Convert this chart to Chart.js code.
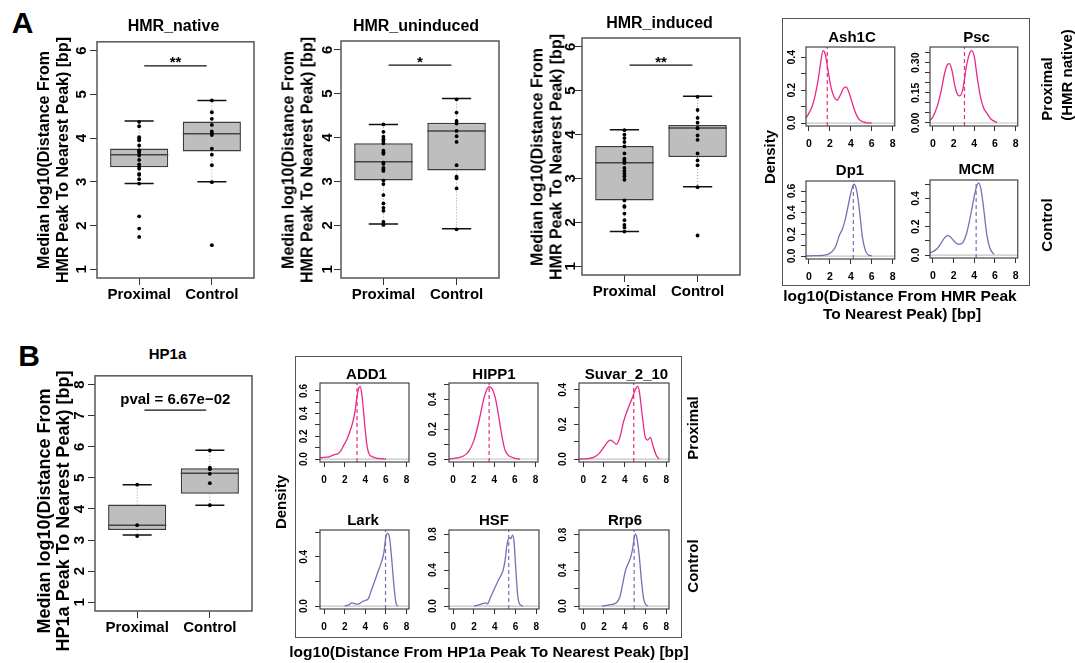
<!DOCTYPE html>
<html>
<head>
<meta charset="utf-8">
<script src="https://cdn.jsdelivr.net/npm/chart.js@4.4.1/dist/chart.umd.min.js"></script>
<style>
  html, body { margin: 0; padding: 0; background: #fff; }
  #fig { position: relative; width: 1075px; height: 663px; overflow: hidden;
         font-family: "Liberation Sans", Arial, sans-serif; font-weight: bold; color: #000; }
  #fig canvas { position: absolute; }
  .t { position: absolute; white-space: nowrap; line-height: 1; transform: translate(-50%, -50%); }
  .v { position: absolute; white-space: nowrap; text-align: center; transform: translate(-50%, -50%) rotate(-90deg); }
  .frame { position: absolute; border: 1.5px solid #555; box-sizing: border-box; }
</style>
</head>
<body>
<div id="fig"></div>
<script>
// ---------------- data ----------------
const GROUPS = ['Proximal', 'Control'];
const BOX_TICKS_A = [1, 2, 3, 4, 5, 6];
const BOX_TICKS_B = [1, 2, 3, 4, 5, 6, 7, 8];

// box statistics: [lower whisker, Q1, median, Q3, upper whisker]
const nativeProxStats = [2.96, 3.33, 3.62, 3.76, 4.39];
const nativeCtrlStats = [3.00, 3.69, 4.10, 4.38, 4.86];
const nativeProxPts = [4.37, 4.27, 4.02, 3.98, 3.95, 3.83, 3.72, 3.69, 3.66, 3.60, 3.50, 3.40, 3.35, 3.30, 3.18, 3.16, 3.06, 2.96, 2.21, 1.93, 1.74];
const nativeCtrlPts = [4.86, 4.59, 4.44, 4.30, 4.15, 4.10, 4.07, 3.76, 3.62, 3.38, 2.99, 1.55];

const uninducedProxStats = [2.03, 3.02, 3.45, 3.87, 4.30];
const uninducedCtrlStats = [1.92, 3.25, 4.15, 4.34, 4.89];
const uninducedProxPts = [4.30, 4.13, 4.02, 3.96, 3.92, 3.87, 3.70, 3.66, 3.63, 3.43, 3.40, 3.31, 3.28, 3.24, 3.02, 2.94, 2.69, 2.50, 2.40, 2.33, 2.08, 2.03, 2.01];
const uninducedCtrlPts = [4.87, 4.57, 4.38, 4.32, 4.15, 4.03, 3.90, 3.37, 3.11, 3.07, 2.84, 1.91];

const inducedProxStats = [1.79, 2.50, 3.36, 3.74, 4.11];
const inducedCtrlStats = [2.81, 3.49, 4.15, 4.22, 4.87];
const inducedProxPts = [4.10, 4.00, 3.92, 3.83, 3.73, 3.57, 3.45, 3.42, 3.38, 3.35, 3.24, 3.17, 3.11, 3.05, 2.97, 2.50, 2.37, 2.35, 2.20, 2.05, 1.94, 1.88, 1.79];
const inducedCtrlPts = [4.86, 4.56, 4.38, 4.27, 4.15, 4.14, 3.98, 3.88, 3.57, 3.41, 3.30, 2.80, 1.70];

const hp1aProxStats = [3.16, 3.32, 3.48, 4.14, 4.78];
const hp1aCtrlStats = [4.12, 4.49, 5.15, 5.31, 5.89];
const hp1aProxPts = [4.78, 3.48, 3.13];
const hp1aCtrlPts = [5.88, 5.33, 5.28, 5.13, 4.83, 4.12];

// significance bars: [x from, x to, y] and their labels
const nativeSig = [1.07, 1.93, 5.65];
const uninducedSig = [1.07, 1.93, 5.65];
const inducedSig = [1.07, 1.93, 5.58];
const hp1aSig = [1.10, 1.95, 7.18];
const sigLabels = ['**', '*', '**', 'pval = 6.67e\u221202'];

// density curves (x = log10 distance, y = density) and medians
const ash1cX = [-0.28, 0.0, 0.3, 0.6, 0.9, 1.1, 1.35, 1.55, 1.8, 2.1, 2.4, 2.7, 3.0, 3.3, 3.55, 3.8, 4.1, 4.4, 4.7, 5.0, 5.4, 6.0];
const ash1cY = [0.03, 0.06, 0.10, 0.17, 0.27, 0.36, 0.44, 0.42, 0.33, 0.22, 0.16, 0.14, 0.17, 0.21, 0.22, 0.19, 0.13, 0.07, 0.03, 0.012, 0.003, 0];
const pscX = [-0.28, 0.0, 0.4, 0.8, 1.1, 1.4, 1.6, 1.85, 2.1, 2.4, 2.6, 2.9, 3.2, 3.5, 3.75, 4.0, 4.3, 4.6, 4.9, 5.2, 5.6, 6.2];
const pscY = [0.013, 0.03, 0.08, 0.16, 0.24, 0.29, 0.295, 0.26, 0.19, 0.14, 0.135, 0.17, 0.27, 0.34, 0.36, 0.33, 0.22, 0.13, 0.075, 0.05, 0.02, 0.002];
const dp1X = [-0.28, 0.5, 1.0, 1.5, 1.9, 2.3, 2.6, 2.9, 3.2, 3.5, 3.8, 4.1, 4.3, 4.5, 4.7, 4.9, 5.1, 5.4, 5.7, 6.0];
const dp1Y = [0.002, 0.004, 0.005, 0.008, 0.02, 0.05, 0.10, 0.19, 0.25, 0.35, 0.49, 0.62, 0.665, 0.63, 0.52, 0.36, 0.18, 0.05, 0.01, 0.002];
const mcmX = [-0.28, 0.0, 0.4, 0.8, 1.1, 1.45, 1.8, 2.1, 2.5, 2.9, 3.2, 3.5, 3.8, 4.1, 4.4, 4.6, 4.8, 5.0, 5.2, 5.5, 5.9];
const mcmY = [0.018, 0.025, 0.045, 0.085, 0.12, 0.14, 0.12, 0.095, 0.076, 0.09, 0.14, 0.23, 0.34, 0.45, 0.51, 0.48, 0.39, 0.27, 0.15, 0.05, 0.005];

const add1X = [-0.4, 0.0, 0.5, 1.0, 1.3, 1.6, 1.9, 2.2, 2.5, 2.8, 3.0, 3.2, 3.35, 3.5, 3.65, 3.8, 4.0, 4.2, 4.4, 4.7, 5.0, 5.5, 6.0];
const add1Y = [0.01, 0.015, 0.02, 0.04, 0.045, 0.07, 0.12, 0.17, 0.24, 0.33, 0.42, 0.55, 0.62, 0.64, 0.58, 0.45, 0.25, 0.10, 0.04, 0.02, 0.01, 0.003, 0];
const hipp1X = [-0.4, 0.5, 1.0, 1.5, 2.0, 2.5, 3.0, 3.3, 3.5, 3.8, 4.1, 4.4, 4.7, 5.0, 5.3, 5.6, 6.0, 6.5];
const hipp1Y = [0.0, 0.01, 0.02, 0.05, 0.12, 0.25, 0.41, 0.47, 0.485, 0.47, 0.41, 0.30, 0.17, 0.07, 0.03, 0.015, 0.005, 0.0];
const suvarX = [-0.4, 0.5, 1.0, 1.5, 2.0, 2.3, 2.6, 2.9, 3.2, 3.5, 3.9, 4.3, 4.7, 5.0, 5.2, 5.4, 5.7, 6.0, 6.2, 6.45, 6.7, 7.0, 7.3];
const suvarY = [0.0, 0.003, 0.01, 0.03, 0.07, 0.095, 0.11, 0.10, 0.085, 0.12, 0.22, 0.29, 0.35, 0.40, 0.42, 0.39, 0.24, 0.12, 0.11, 0.125, 0.08, 0.025, 0.0];
const larkX = [2.0, 2.4, 2.7, 3.0, 3.3, 3.7, 4.0, 4.3, 4.6, 4.9, 5.2, 5.5, 5.8, 6.0, 6.15, 6.35, 6.55, 6.75, 7.0, 7.2];
const larkY = [0.0, 0.01, 0.025, 0.018, 0.015, 0.035, 0.045, 0.06, 0.13, 0.20, 0.27, 0.34, 0.43, 0.56, 0.59, 0.56, 0.40, 0.20, 0.02, 0];
const hsfX = [2.0, 2.5, 2.9, 3.1, 3.3, 3.6, 4.0, 4.4, 4.8, 5.0, 5.2, 5.4, 5.55, 5.7, 5.85, 6.0, 6.2, 6.4, 6.7];
const hsfY = [0.0, 0.012, 0.03, 0.035, 0.025, 0.10, 0.20, 0.30, 0.40, 0.52, 0.70, 0.76, 0.75, 0.79, 0.72, 0.45, 0.12, 0.02, 0];
const rrp6X = [1.8, 2.2, 2.6, 3.0, 3.3, 3.55, 3.8, 4.05, 4.3, 4.55, 4.75, 4.9, 5.05, 5.2, 5.4, 5.6, 5.8, 6.0, 6.2];
const rrp6Y = [0, 0.008, 0.015, 0.025, 0.05, 0.11, 0.25, 0.39, 0.47, 0.54, 0.64, 0.76, 0.81, 0.74, 0.55, 0.29, 0.09, 0.02, 0];

const densityMedians = { Ash1C: 1.75, Psc: 3.05, Dp1: 4.24, MCM: 4.18, ADD1: 3.2, HIPP1: 3.5, Suvar_2_10: 4.86, Lark: 5.97, HSF: 5.34, Rrp6: 4.9 };

const densXTicks = [0, 2, 4, 6, 8];
const densXLabels = ['0', '2', '4', '6', '8'];

// ---------------- styles ----------------
const FONT = '"Liberation Sans", Arial, sans-serif';
const PINK = '#E7298A';
const PURPLE = '#7570B3';
const BOX_FILL = '#BEBEBE';
const BOX_HALF = 0.4, CAP_HALF = 0.2;
Chart.defaults.font.family = FONT;

const fig = document.getElementById('fig');
const mctx = document.createElement('canvas').getContext('2d');
function textWidth(s, size) { mctx.font = `bold ${size}px ${FONT}`; return mctx.measureText(s).width; }

// frame around the plotting region
const framePlugin = {
  id: 'frame',
  afterDraw(chart, args, o) {
    const a = chart.chartArea, ctx = chart.ctx;
    ctx.save();
    ctx.strokeStyle = o.color || '#555';
    ctx.lineWidth = o.width || 1.5;
    ctx.strokeRect(a.left, a.top, a.right - a.left, a.bottom - a.top);
    ctx.restore();
  }
};
// label above a significance bar, placed in data units
const sigPlugin = {
  id: 'sigLabel',
  afterDatasetsDraw(chart, args, o) {
    if (!o.text) return;
    const ctx = chart.ctx;
    ctx.save();
    ctx.font = `bold ${o.size}px ${FONT}`;
    ctx.fillStyle = '#000';
    ctx.textAlign = 'center';
    ctx.textBaseline = 'alphabetic';
    ctx.fillText(o.text, chart.scales.x.getPixelForValue(o.x), chart.scales.y.getPixelForValue(o.y) + o.dy);
    ctx.restore();
  }
};

function makeCanvas(slot, pad) {
  const c = document.createElement('canvas');
  const w = slot.W + pad.l + pad.r, h = slot.H + pad.t + pad.b;
  c.width = w; c.height = h;
  c.style.left = (slot.L - pad.l) + 'px';
  c.style.top = (slot.T - pad.t) + 'px';
  c.style.width = w + 'px'; c.style.height = h + 'px';
  fig.appendChild(c);
  return c;
}

function yAxis(min, max, ticks, labels, size, tl, dist, width) {
  const widest = Math.max(...labels.map(l => textWidth(l, size)));
  return {
    type: 'linear', min, max, bounds: 'data', offset: false,
    afterBuildTicks: s => { s.ticks = ticks.map(v => ({ value: v })); },
    afterFit: s => { s.width = width; },
    grid: { display: true, offset: false, drawOnChartArea: false, drawTicks: true, tickLength: tl, color: '#333', lineWidth: 1 },
    border: { display: false },
    ticks: { autoSkip: false, minRotation: 90, maxRotation: 90, crossAlign: 'center',
             padding: dist - tl - widest / 2, color: '#000',
             font: { family: FONT, weight: 'bold', size }, callback: (v, i) => labels[i] }
  };
}
function xAxis(min, max, ticks, labels, size, tl, dist, height) {
  return {
    type: 'linear', min, max, bounds: 'data', offset: false,
    afterBuildTicks: s => { s.ticks = ticks.map(v => ({ value: v })); },
    afterFit: s => { s.height = height; },
    grid: { display: true, offset: false, drawOnChartArea: false, drawTicks: true, tickLength: tl, color: '#333', lineWidth: 1 },
    border: { display: false },
    ticks: { autoSkip: false, maxRotation: 0, padding: dist - tl - 0.6 * size, color: '#000',
             font: { family: FONT, weight: 'bold', size }, callback: (v, i) => labels[i] }
  };
}

// ---------------- box plots ----------------
function boxChart(slot, statsP, statsC, ptsP, ptsC, sig, sigText, sigDy, yTicks, yMin, yMax, labelDist) {
  const pad = { l: 40, r: 8, t: 12, b: 32 };
  const S = [statsP, statsC];
  const boxes = S.map((s, i) => ({ x: i + 1, y: [s[1], s[3]] }));
  const whisk = [], caps = [], meds = [];
  S.forEach((s, i) => {
    const c = i + 1;
    whisk.push({ x: c, y: s[3] }, { x: c, y: s[4] }, { x: c, y: null }, { x: c, y: s[1] }, { x: c, y: s[0] }, { x: c, y: null });
    caps.push({ x: c - CAP_HALF, y: s[4] }, { x: c + CAP_HALF, y: s[4] }, { x: c, y: null },
              { x: c - CAP_HALF, y: s[0] }, { x: c + CAP_HALF, y: s[0] }, { x: c, y: null });
    meds.push({ x: c - BOX_HALF, y: s[2] }, { x: c + BOX_HALF, y: s[2] }, { x: c, y: null });
  });
  const points = ptsP.map(v => ({ x: 1, y: v })).concat(ptsC.map(v => ({ x: 2, y: v })));
  const seg = { type: 'scatter', showLine: true, pointRadius: 0, spanGaps: false };
  new Chart(makeCanvas(slot, pad), {
    type: 'scatter',
    data: { datasets: [
      { type: 'bar', data: boxes, backgroundColor: BOX_FILL, borderColor: '#3c3c3c', borderWidth: 1.5,
        borderSkipped: false, categoryPercentage: 1, barPercentage: 2 * BOX_HALF, order: 6 },
      { ...seg, data: whisk, borderColor: '#9a9a9a', borderWidth: 1, borderDash: [1, 2], order: 5 },
      { ...seg, data: caps, borderColor: '#111', borderWidth: 1.5, order: 4 },
      { ...seg, data: meds, borderColor: '#444', borderWidth: 1.5, order: 3 },
      { ...seg, data: [{ x: sig[0], y: sig[2] }, { x: sig[1], y: sig[2] }], borderColor: '#111', borderWidth: 1.2, order: 2 },
      { type: 'scatter', data: points, pointRadius: 1.9, pointBackgroundColor: '#000', pointBorderWidth: 0, order: 1 }
    ] },
    options: {
      responsive: false, animation: false, events: [],
      layout: { padding: { left: 0, top: pad.t, right: pad.r, bottom: 0 } },
      plugins: { legend: { display: false }, tooltip: { enabled: false },
                 frame: { color: '#555', width: 1.5 },
                 sigLabel: { text: sigText, x: (sig[0] + sig[1]) / 2, y: sig[2], dy: sigDy, size: 15 } },
      scales: {
        x: xAxis(0.42, 2.58, [1, 2], GROUPS, 15, 7, 16.5, pad.b),
        y: yAxis(yMin, yMax, yTicks, yTicks.map(String), 15, 7, labelDist, pad.l)
      }
    },
    plugins: [framePlugin, sigPlugin]
  });
}

// ---------------- density panels ----------------
function densityChart(slot, name, xs, ys, color, xMin, xMax, yMin, yMax, yTicks, yLabels, fontSize, labelDist) {
  const pad = { l: 30, r: 8, t: 12, b: 28 };
  const curve = xs.map((x, i) => ({ x, y: ys[i] }));
  const m = densityMedians[name];
  new Chart(makeCanvas(slot, pad), {
    type: 'scatter',
    data: { datasets: [
      { type: 'scatter', showLine: true, pointRadius: 0, data: [{ x: xMin, y: 0 }, { x: xMax, y: 0 }],
        borderColor: '#C4C4C4', borderWidth: 1.2, order: 3 },
      { type: 'scatter', showLine: true, pointRadius: 0, data: [{ x: m, y: yMin }, { x: m, y: yMax }],
        borderColor: color, borderWidth: 1.2, borderDash: [4, 3], order: 2 },
      { type: 'scatter', showLine: true, pointRadius: 0, data: curve, cubicInterpolationMode: 'monotone',
        borderColor: color, borderWidth: 1.3, order: 1 }
    ] },
    options: {
      responsive: false, animation: false, events: [],
      layout: { padding: { left: 0, top: pad.t, right: pad.r, bottom: 0 } },
      plugins: { legend: { display: false }, tooltip: { enabled: false }, frame: { color: '#444', width: 1.2 } },
      scales: {
        x: xAxis(xMin, xMax, densXTicks, densXLabels, fontSize, 5, 18.5, pad.b),
        y: yAxis(yMin, yMax, yTicks, yLabels, fontSize, 5, labelDist, pad.l)
      }
    },
    plugins: [framePlugin]
  });
}

// ---------------- layout ----------------
const LAYOUT = {
  native:    { L: 97,  T: 41,  W: 157, H: 237 },
  uninduced: { L: 341, T: 41,  W: 158, H: 237 },
  induced:   { L: 582, T: 38,  W: 158, H: 237 },
  hp1a:      { L: 95,  T: 375, W: 157, H: 236 },
  Ash1C: { L: 806, T: 47,  W: 89, H: 79 },
  Psc:   { L: 930, T: 47,  W: 88, H: 79 },
  Dp1:   { L: 806, T: 181, W: 89, H: 78 },
  MCM:   { L: 930, T: 180, W: 88, H: 78 },
  ADD1:  { L: 320, T: 383, W: 89, H: 79 },
  HIPP1: { L: 449, T: 383, W: 89, H: 79 },
  Suvar: { L: 579, T: 383, W: 90, H: 79 },
  Lark:  { L: 320, T: 530, W: 89, H: 79 },
  HSF:   { L: 449, T: 530, W: 90, H: 79 },
  Rrp6:  { L: 579, T: 530, W: 90, H: 79 }
};

boxChart(LAYOUT.native, nativeProxStats, nativeCtrlStats, nativeProxPts, nativeCtrlPts, nativeSig, sigLabels[0], 1.5, BOX_TICKS_A, 0.8, 6.2, 15);
boxChart(LAYOUT.uninduced, uninducedProxStats, uninducedCtrlStats, uninducedProxPts, uninducedCtrlPts, uninducedSig, sigLabels[1], 1.5, BOX_TICKS_A, 0.8, 6.2, 13);
boxChart(LAYOUT.induced, inducedProxStats, inducedCtrlStats, inducedProxPts, inducedCtrlPts, inducedSig, sigLabels[2], 1.5, BOX_TICKS_A, 0.8, 6.2, 11.5);
boxChart(LAYOUT.hp1a, hp1aProxStats, hp1aCtrlStats, hp1aProxPts, hp1aCtrlPts, hp1aSig, sigLabels[3], -6, BOX_TICKS_B, 0.72, 8.28, 15);

const A_X = [-0.28, 8.2], B_X = [-0.4, 8.25];
densityChart(LAYOUT.Ash1C, 'Ash1C', ash1cX, ash1cY, PINK, A_X[0], A_X[1], -0.018, 0.462, [0, 0.1, 0.2, 0.3, 0.4], ['0.0', '', '0.2', '', '0.4'], 10.5, 14);
densityChart(LAYOUT.Psc, 'Psc', pscX, pscY, PINK, A_X[0], A_X[1], -0.015, 0.378, [0, 0.05, 0.1, 0.15, 0.2, 0.25, 0.3, 0.35], ['0.00', '', '', '0.15', '', '', '0.30', ''], 10.5, 14);
densityChart(LAYOUT.Dp1, 'Dp1', dp1X, dp1Y, PURPLE, A_X[0], A_X[1], -0.027, 0.693, [0, 0.1, 0.2, 0.3, 0.4, 0.5, 0.6], ['0.0', '', '0.2', '', '0.4', '', '0.6'], 10.5, 14);
densityChart(LAYOUT.MCM, 'MCM', mcmX, mcmY, PURPLE, A_X[0], A_X[1], -0.02, 0.53, [0, 0.1, 0.2, 0.3, 0.4, 0.5], ['0.0', '', '0.2', '', '0.4', ''], 10.5, 14);

densityChart(LAYOUT.ADD1, 'ADD1', add1X, add1Y, PINK, B_X[0], B_X[1], -0.026, 0.67, [0, 0.1, 0.2, 0.3, 0.4, 0.5, 0.6], ['0.0', '', '0.2', '', '0.4', '', '0.6'], 10, 16);
densityChart(LAYOUT.HIPP1, 'HIPP1', hipp1X, hipp1Y, PINK, B_X[0], B_X[1], -0.02, 0.51, [0, 0.1, 0.2, 0.3, 0.4, 0.5], ['0.0', '', '0.2', '', '0.4', ''], 10, 16);
densityChart(LAYOUT.Suvar, 'Suvar_2_10', suvarX, suvarY, PINK, B_X[0], B_X[1], -0.017, 0.44, [0, 0.1, 0.2, 0.3, 0.4], ['0.0', '', '0.2', '', '0.4'], 10, 16);
densityChart(LAYOUT.Lark, 'Lark', larkX, larkY, PURPLE, B_X[0], B_X[1], -0.024, 0.618, [0, 0.2, 0.4, 0.6], ['0.0', '', '0.4', ''], 10, 16);
densityChart(LAYOUT.HSF, 'HSF', hsfX, hsfY, PURPLE, B_X[0], B_X[1], -0.033, 0.846, [0, 0.2, 0.4, 0.6, 0.8], ['0.0', '', '0.4', '', '0.8'], 10, 16);
densityChart(LAYOUT.Rrp6, 'Rrp6', rrp6X, rrp6Y, PURPLE, B_X[0], B_X[1], -0.033, 0.853, [0, 0.2, 0.4, 0.6, 0.8], ['0.0', '', '0.4', '', '0.8'], 10, 16);

// ---------------- text and frames ----------------
function text(str, cx, cy, size) {
  const d = document.createElement('div');
  d.className = 't'; d.textContent = str;
  d.style.left = cx + 'px'; d.style.top = cy + 'px'; d.style.fontSize = size + 'px';
  fig.appendChild(d);
}
function vtext(lines, cx, cy, size, lh) {
  const d = document.createElement('div');
  d.className = 'v';
  d.innerHTML = lines.map(s => s.replace(/&/g, '&amp;')).join('<br>');
  d.style.left = cx + 'px'; d.style.top = cy + 'px'; d.style.fontSize = size + 'px';
  d.style.lineHeight = (lh || size * 1.15) + 'px';
  fig.appendChild(d);
}
function frame(l, t, r, b) {
  const d = document.createElement('div');
  d.className = 'frame';
  d.style.left = l + 'px'; d.style.top = t + 'px';
  d.style.width = (r - l) + 'px'; d.style.height = (b - t) + 'px';
  fig.appendChild(d);
}

frame(782, 18, 1030, 286);
frame(295, 356, 682, 638);

text('A', 22.5, 22.5, 30);
text('B', 29, 356, 30);

text('HMR_native', 173.5, 25.5, 16);
text('HMR_uninduced', 416, 26, 16);
text('HMR_induced', 659.5, 22.5, 16);
text('HP1a', 167.5, 353, 15);

const yTitleA = ['Median log10(Distance From', 'HMR Peak To Nearest Peak) [bp]'];
vtext(yTitleA, 52.5, 160, 16, 18.5);
vtext(yTitleA, 297.5, 160, 16, 18.5);
vtext(yTitleA, 546.5, 157, 16, 18.5);
vtext(['Median log10(Distance From', 'HP1a Peak To Nearest Peak) [bp]'], 52.5, 511, 18, 18.5);

text('Ash1C', 852, 35.7, 15);
text('Psc', 976.5, 35.7, 15);
text('Dp1', 850, 169, 15);
text('MCM', 976.5, 168, 15);
vtext(['Density'], 770, 157, 15);
vtext(['Proximal'], 1046.7, 89, 15);
vtext(['(HMR native)'], 1066.7, 75, 15);
vtext(['Control'], 1046.7, 224.5, 15);
text('log10(Distance From HMR Peak', 900, 296, 15.5);
text('To Nearest Peak) [bp]', 902, 313.5, 15.5);

text('ADD1', 366.5, 372.5, 15);
text('HIPP1', 494, 372.5, 15);
text('Suvar_2_10', 626.5, 372.5, 15);
text('Lark', 363, 519, 15);
text('HSF', 494, 519, 15);
text('Rrp6', 625, 519, 15);
vtext(['Density'], 281, 502, 15);
vtext(['Proximal'], 693.3, 428, 15);
vtext(['Control'], 693.3, 566, 15);
text('log10(Distance From HP1a Peak To Nearest Peak) [bp]', 489, 652, 15.5);
</script>
</body>
</html>
